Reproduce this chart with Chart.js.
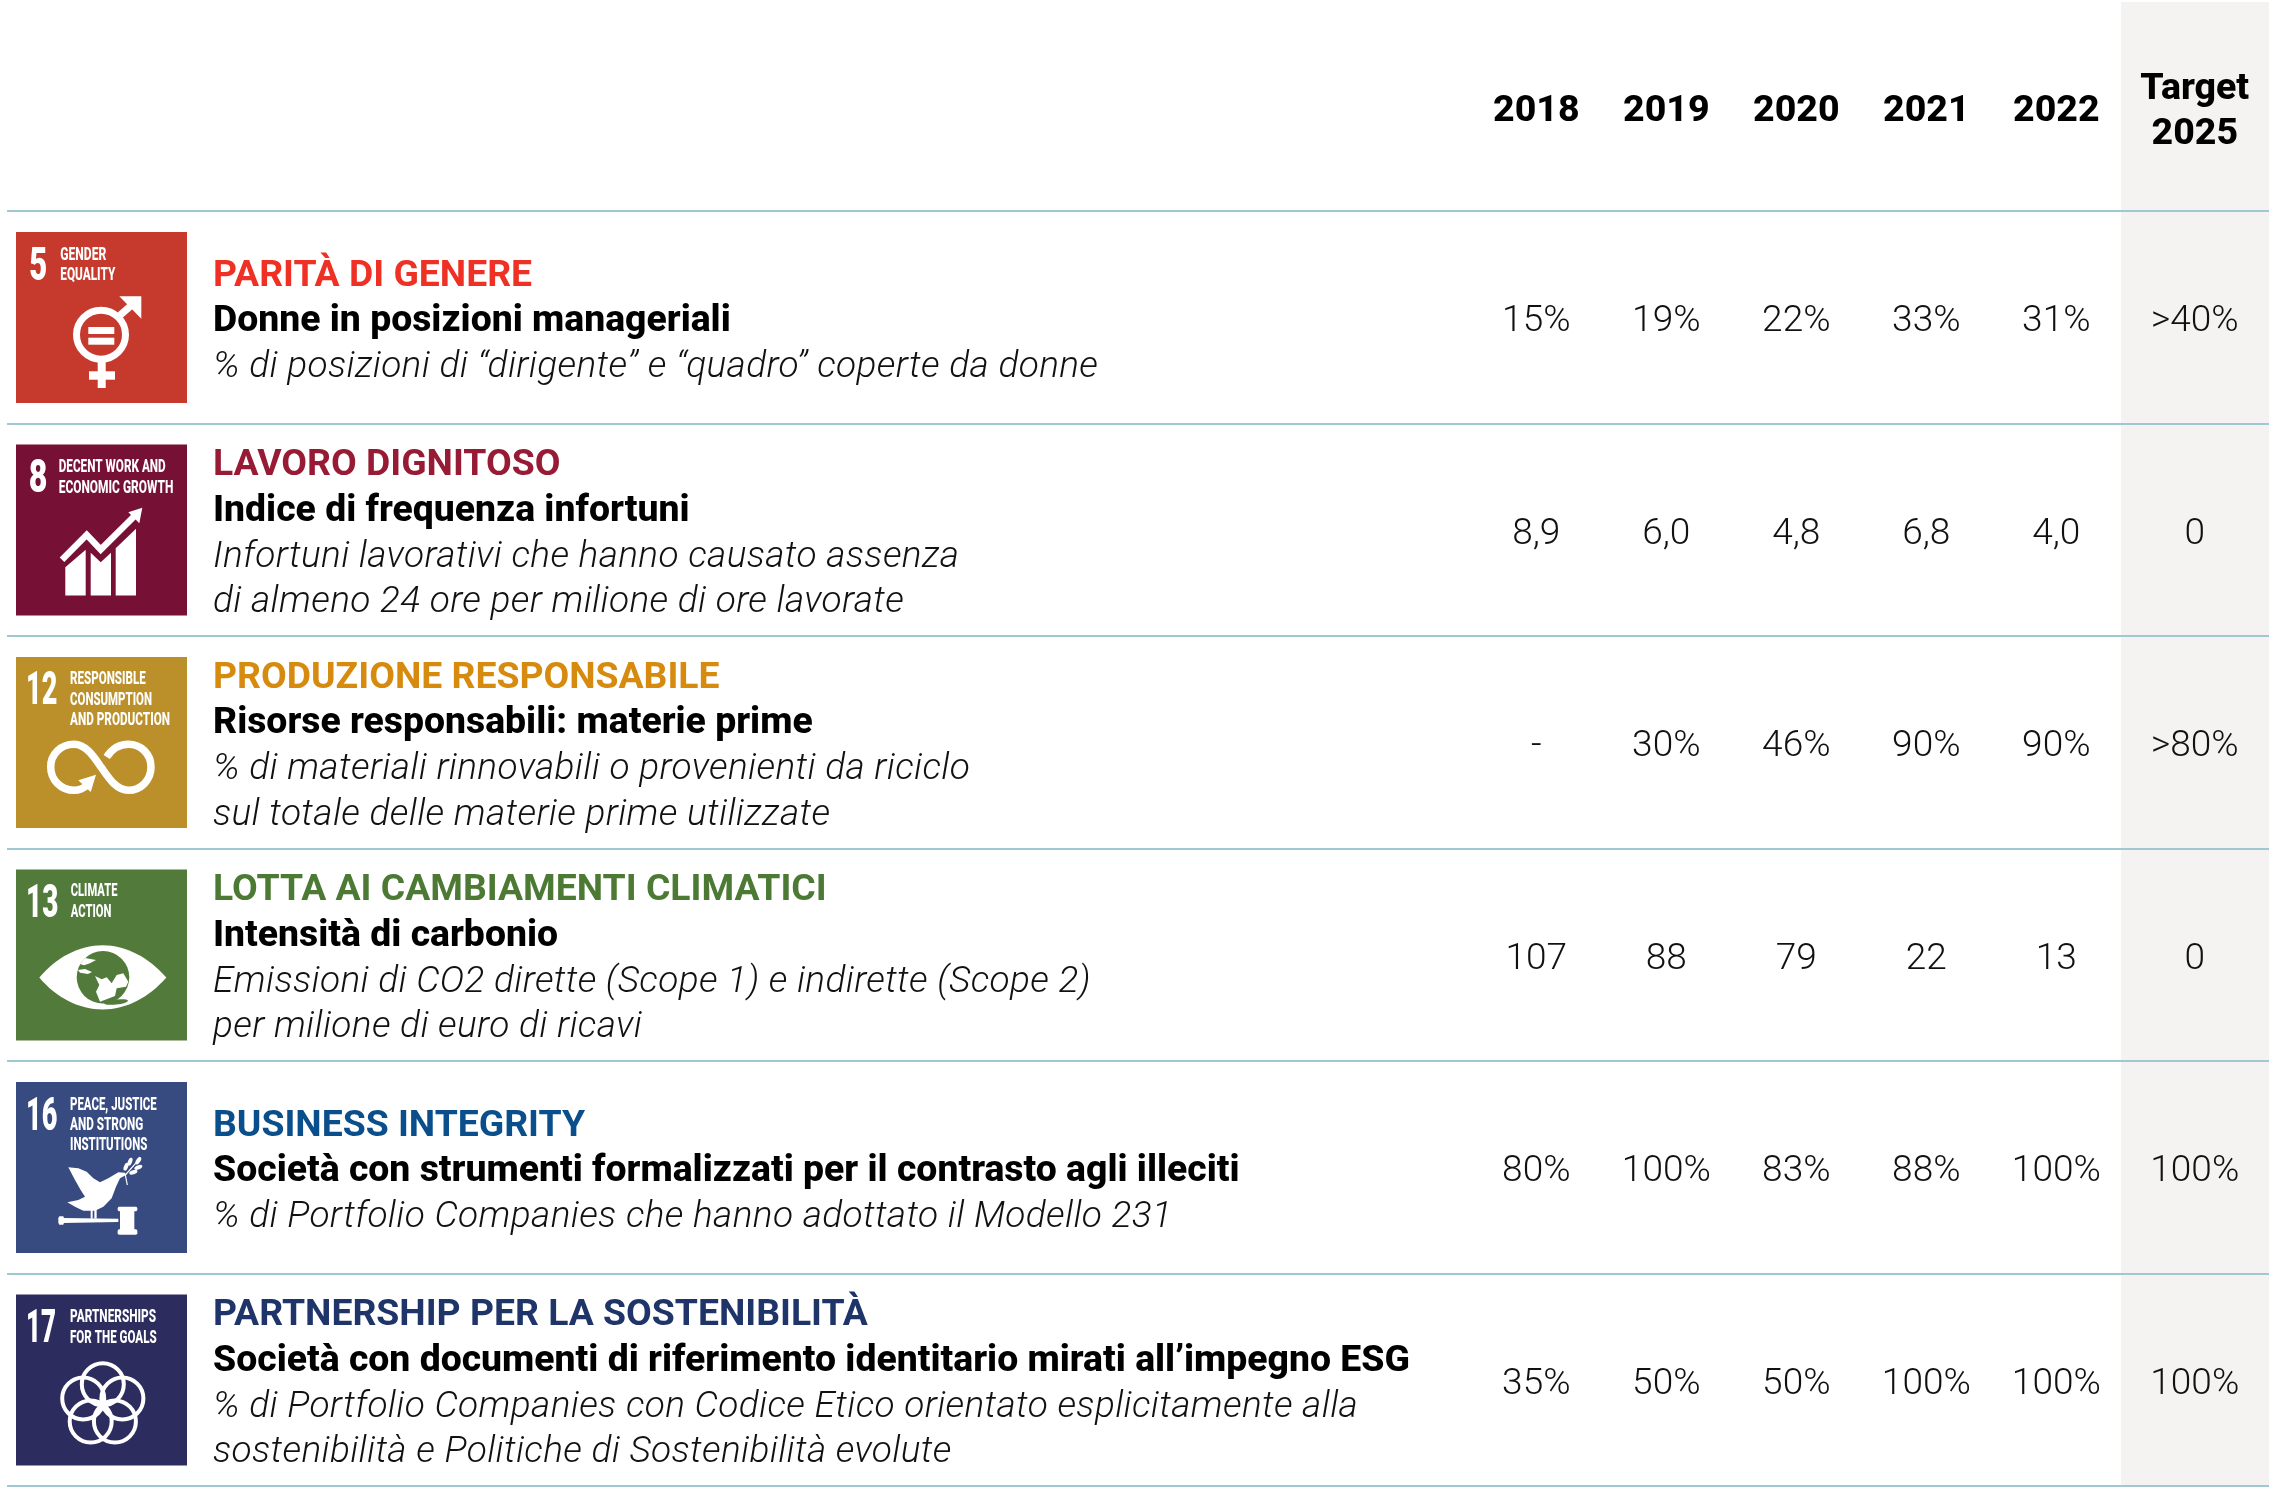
<!DOCTYPE html>
<html>
<head>
<meta charset="utf-8">
<script src="https://cdn.jsdelivr.net/npm/chart.js@4"></script>
<style>
    html, body { margin: 0; padding: 0; background: #fff; }
    canvas { display: block; }
</style>
</head>
<body>
<canvas id="table-chart" width="2271" height="1499"></canvas>
<script>
const columnLabels = ['2018', '2019', '2020', '2021', '2022', 'Target\n2025'];
const columnPositions = [2018, 2019, 2020, 2021, 2022, 2023.065];

const rowTitles = ['PARITÀ DI GENERE', 'LAVORO DIGNITOSO', 'PRODUZIONE RESPONSABILE', 'LOTTA AI CAMBIAMENTI CLIMATICI', 'BUSINESS INTEGRITY', 'PARTNERSHIP PER LA SOSTENIBILITÀ'];
const rowHeadings = [
    'Donne in posizioni manageriali',
    'Indice di frequenza infortuni',
    'Risorse responsabili: materie prime',
    'Intensità di carbonio',
    'Società con strumenti formalizzati per il contrasto agli illeciti',
    'Società con documenti di riferimento identitario mirati all’impegno ESG'
];
const rowDescriptions = [
    ['% di posizioni di “dirigente” e “quadro” coperte da donne'],
    ['Infortuni lavorativi che hanno causato assenza', 'di almeno 24 ore per milione di ore lavorate'],
    ['% di materiali rinnovabili o provenienti da riciclo', 'sul totale delle materie prime utilizzate'],
    ['Emissioni di CO2 dirette (Scope 1) e indirette (Scope 2)', 'per milione di euro di ricavi'],
    ['% di Portfolio Companies che hanno adottato il Modello 231'],
    ['% di Portfolio Companies con Codice Etico orientato esplicitamente alla', 'sostenibilità e Politiche di Sostenibilità evolute']
];
const titleColors = ['#EE3124', '#981B36', '#D68A0E', '#4C7A34', '#0A4F8C', '#1F3468'];

const values2018 = ['15%', '8,9', '-', '107', '80%', '35%'];
const values2019 = ['19%', '6,0', '30%', '88', '100%', '50%'];
const values2020 = ['22%', '4,8', '46%', '79', '83%', '50%'];
const values2021 = ['33%', '6,8', '90%', '22', '88%', '100%'];
const values2022 = ['31%', '4,0', '90%', '13', '100%', '100%'];
const valuesTarget = ['>40%', '0', '>80%', '0', '100%', '100%'];
const columnValues = [values2018, values2019, values2020, values2021, values2022, valuesTarget];

const goalColors = ['#C53A2D', '#761135', '#BB902B', '#527A3B', '#384B80', '#2D2C5E'];

const FONT = 'Roboto, sans-serif';
const FONT_SIZE = 37;
const BOLD_SIZE = 37.35;
const LINE_HEIGHT = 45.7;
const TEXT_X = 213;
const ICON_X = 16;
const ICON_SIZE = 171;
const ROW_HEIGHT = 212.5;

// squeeze a bold label into the width it has on the goal tile
function fitText(ctx, text, x, baseline, size, width, weight) {
    ctx.save();
    ctx.font = `${weight} ${size}px ${FONT}`;
    ctx.textAlign = 'left';
    ctx.textBaseline = 'alphabetic';
    const scaleX = width / ctx.measureText(text).width;
    ctx.translate(x, baseline);
    ctx.scale(scaleX, 1);
    ctx.fillText(text, 0, 0);
    ctx.restore();
}

function poly(ctx, points) {
    ctx.beginPath();
    points.forEach((p, i) => i ? ctx.lineTo(p[0], p[1]) : ctx.moveTo(p[0], p[1]));
    ctx.closePath();
    ctx.fill();
}

function drawGender(ctx) {
    ctx.lineWidth = 7;
    ctx.beginPath();
    ctx.arc(85, 102.7, 24.5, 0, Math.PI * 2);
    ctx.stroke();
    ctx.fillRect(72.3, 95, 26, 7);
    ctx.fillRect(72.3, 105.7, 26, 7);
    ctx.fillRect(81.7, 130, 8, 26);
    ctx.fillRect(73, 139.3, 26, 8.4);
    ctx.beginPath();
    ctx.moveTo(102, 85);
    ctx.lineTo(118, 71);
    ctx.stroke();
    poly(ctx, [[103.3, 64.3], [125.3, 64.3], [125.3, 86.7]]);
}

function drawGrowth(ctx) {
    poly(ctx, [[49.3, 122.7], [69.7, 105.3], [69.7, 151], [49.3, 151]]);
    poly(ctx, [[74.7, 108.3], [84.7, 117.7], [95, 108.3], [95, 151], [74.7, 151]]);
    poly(ctx, [[99.7, 103.7], [120, 84.3], [120, 151], [99.7, 151]]);
    ctx.lineWidth = 6.5;
    ctx.beginPath();
    ctx.moveTo(46, 115.3);
    ctx.lineTo(70.7, 90.3);
    ctx.lineTo(84.7, 105);
    ctx.lineTo(119, 71);
    ctx.stroke();
    poly(ctx, [[126.3, 63.3], [112.3, 67.7], [123.3, 78.7]]);
}

function drawInfinity(ctx) {
    ctx.lineWidth = 7.5;
    ctx.beginPath();
    ctx.moveTo(90.7, 100);
    ctx.bezierCurveTo(96, 92, 103, 87.3, 112.3, 87.3);
    ctx.bezierCurveTo(125, 87.3, 135, 97, 135, 110);
    ctx.bezierCurveTo(135, 123, 125, 133.3, 112.3, 133.3);
    ctx.bezierCurveTo(100, 133.3, 92, 120, 85, 110);
    ctx.bezierCurveTo(78, 100, 70, 87.3, 58, 87.3);
    ctx.bezierCurveTo(45, 87.3, 34.7, 97, 34.7, 110);
    ctx.bezierCurveTo(34.7, 123, 45, 133.3, 58, 133.3);
    ctx.bezierCurveTo(63, 133.3, 68, 131, 71.3, 128);
    ctx.stroke();
    poly(ctx, [[80, 117.7], [62.3, 123.3], [74.7, 135]]);
}

function drawEye(ctx, background) {
    ctx.beginPath();
    ctx.moveTo(23.3, 108);
    ctx.bezierCurveTo(40, 88, 63, 75.7, 86.7, 75.7);
    ctx.bezierCurveTo(110, 75.7, 133, 88, 150.3, 108);
    ctx.bezierCurveTo(133, 128, 110, 140, 86.7, 140);
    ctx.bezierCurveTo(63, 140, 40, 128, 23.3, 108);
    ctx.fill();
    ctx.fillStyle = background;
    ctx.beginPath();
    ctx.arc(87, 107.8, 26.3, 0, Math.PI * 2);
    ctx.fill();
    // seas left open in the globe
    ctx.fillStyle = '#fff';
    const toLocal = list => list.map(p => [44 + p[0] / 3, 50.5 + p[1] / 3]);
    poly(ctx, toLocal([[60, 132], [75, 114], [108, 120], [90, 130], [72, 136]]));
    poly(ctx, toLocal([[54, 150], [75, 147], [96, 156], [84, 162], [60, 158]]));
    poly(ctx, toLocal([[105, 168], [125, 178], [140, 172], [155, 190], [170, 165], [190, 160], [205, 185], [198, 200], [170, 205], [165, 228], [120, 245], [108, 215], [118, 195]]));
    ctx.fillStyle = background;
    ctx.beginPath();
    ctx.ellipse(100, 132.5, 12, 2.6, -0.1, 0, Math.PI * 2);
    ctx.fill();
}

function drawDove(ctx) {
    const toLocal = list => list.map(p => [24 + p[0] / 3, 58 + p[1] / 3]);
    poly(ctx, toLocal([[85, 82], [115, 85], [140, 95], [160, 115], [180, 127], [205, 115], [235, 97], [255, 98], [258, 105], [240, 115], [228, 140], [215, 175], [190, 200], [165, 212], [130, 212], [105, 200], [82, 187], [115, 180], [135, 170], [122, 150], [105, 120]]));
    // legs and gavel
    poly(ctx, toLocal([[152, 205], [158, 205], [158, 236], [152, 236]]));
    poly(ctx, toLocal([[163, 205], [170, 205], [170, 236], [163, 236]]));
    poly(ctx, toLocal([[70, 234], [235, 236], [235, 246], [70, 249]]));
    poly(ctx, toLocal([[58, 229], [70, 229], [72, 235], [72, 248], [70, 254], [58, 254], [55, 248], [55, 235]]));
    poly(ctx, toLocal([[240, 208], [283, 208], [283, 272], [240, 272]]));
    poly(ctx, toLocal([[236, 200], [289, 200], [292, 204], [292, 210], [289, 214], [236, 214], [233, 210], [233, 204]]));
    poly(ctx, toLocal([[236, 268], [289, 268], [292, 272], [292, 280], [289, 284], [236, 284], [233, 280], [233, 272]]));
    // olive branch
    ctx.lineWidth = 1.2;
    ctx.beginPath();
    ctx.moveTo(24 + 262 / 3, 58 + 135 / 3);
    ctx.lineTo(24 + 256 / 3, 58 + 105 / 3);
    ctx.lineTo(24 + 300 / 3, 58 + 55 / 3);
    ctx.stroke();
    [[258, 80, -1.2], [270, 65, -1.2], [295, 62, -1], [280, 97, -0.3], [295, 82, -0.4]].forEach(p => {
        ctx.beginPath();
        ctx.ellipse(24 + p[0] / 3, 58 + p[1] / 3, 4.2, 2.1, p[2], 0, Math.PI * 2);
        ctx.fill();
    });
}

function drawRings(ctx) {
    ctx.lineWidth = 4;
    for (let i = 0; i < 5; i++) {
        const angle = -Math.PI / 2 + i * Math.PI * 2 / 5;
        ctx.beginPath();
        ctx.arc(86.8 + 20.6 * Math.cos(angle), 110.3 + 20.6 * Math.sin(angle), 21, 0, Math.PI * 2);
        ctx.stroke();
    }
}

// [text, x, baseline, width] in tile coordinates
const goalLabels = [
    [['5', 13.3, 47.7, 18], ['GENDER', 44.3, 27.7, 46], ['EQUALITY', 44.3, 47.7, 55]],
    [['8', 12.7, 47.7, 18.7], ['DECENT WORK AND', 42.7, 27.7, 107], ['ECONOMIC GROWTH', 42.7, 48.3, 114.7]],
    [['12', 10, 46.7, 31.3], ['RESPONSIBLE', 54, 27, 75.7], ['CONSUMPTION', 54, 47.7, 82], ['AND PRODUCTION', 54, 68.3, 100]],
    [['13', 10, 47.3, 32.3], ['CLIMATE', 54.7, 26.7, 46.7], ['ACTION', 54.7, 47.3, 40.7]],
    [['16', 10, 47.7, 31.3], ['PEACE, JUSTICE', 54, 27.7, 86.7], ['AND STRONG', 54, 48.3, 73.3], ['INSTITUTIONS', 54, 68.3, 77.3]],
    [['17', 10, 47.3, 30], ['PARTNERSHIPS', 54, 27.3, 86], ['FOR THE GOALS', 54, 48, 86.7]]
];
const goalIcons = [drawGender, drawGrowth, drawInfinity, drawEye, drawDove, drawRings];

function drawGoalTile(ctx, index, top) {
    ctx.save();
    ctx.translate(ICON_X, top);
    ctx.fillStyle = goalColors[index];
    ctx.fillRect(0, 0, ICON_SIZE, ICON_SIZE);
    ctx.fillStyle = '#fff';
    ctx.strokeStyle = '#fff';
    goalLabels[index].forEach((label, i) => {
        if (i === 0) fitText(ctx, label[0], label[1], label[2], 47, label[3], 900);
        else fitText(ctx, label[0], label[1], label[2], 18, label[3], 800);
    });
    goalIcons[index](ctx, goalColors[index]);
    ctx.restore();
}

const tablePlugin = {
    id: 'tablePlugin',
    beforeDraw(chart) {
        const { ctx, scales: { x, y } } = chart;
        // shaded target column runs up through the header
        ctx.save();
        ctx.fillStyle = '#F4F3F1';
        ctx.fillRect(2121, 2, x.right - 2121, y.bottom - 2);
        ctx.restore();
    },
    afterDraw(chart) {
        const { ctx, scales: { x, y } } = chart;
        ctx.save();

        // column headers, taken from the x axis ticks
        ctx.fillStyle = '#000';
        ctx.font = `800 37.5px ${FONT}`;
        ctx.textAlign = 'center';
        ctx.textBaseline = 'alphabetic';
        x.ticks.forEach(tick => {
            const lines = columnLabels[columnPositions.indexOf(tick.value)].split('\n');
            lines.forEach((line, i) => {
                const baseline = 108.5 + 12.5 + (i - (lines.length - 1) / 2) * 45;
                ctx.fillText(line, x.getPixelForValue(tick.value), baseline);
            });
        });

        // row texts
        rowTitles.forEach((title, i) => {
            const center = y.getPixelForValue(i);
            const lines = rowDescriptions[i];
            const first = center + 14 - (lines.length + 1) / 2 * LINE_HEIGHT;
            ctx.textAlign = 'left';
            ctx.fillStyle = titleColors[i];
            ctx.font = `700 ${BOLD_SIZE}px ${FONT}`;
            ctx.fillText(title, TEXT_X, first);
            ctx.fillStyle = '#000';
            ctx.font = `800 ${BOLD_SIZE}px ${FONT}`;
            ctx.fillText(rowHeadings[i], TEXT_X, first + LINE_HEIGHT);
            ctx.fillStyle = '#111';
            ctx.font = `italic 300 ${FONT_SIZE}px ${FONT}`;
            ctx.letterSpacing = '0.36px';
            lines.forEach((line, k) => ctx.fillText(line, TEXT_X, first + LINE_HEIGHT * (k + 2)));
            ctx.letterSpacing = '0px';

            drawGoalTile(ctx, i, center - ROW_HEIGHT / 2 + 21);
        });

        // cell values sit on the dataset points
        ctx.textAlign = 'center';
        ctx.fillStyle = '#111';
        ctx.font = `300 ${FONT_SIZE}px ${FONT}`;
        chart.data.datasets.forEach(dataset => {
            dataset.data.forEach(point => {
                ctx.fillText(point.label, x.getPixelForValue(point.x), y.getPixelForValue(point.y) + 14);
            });
        });
        ctx.restore();
    }
};

const datasets = columnValues.map((values, col) => ({
    label: columnLabels[col],
    data: values.map((value, row) => ({ x: columnPositions[col], y: rowTitles[row], label: value })),
    pointRadius: 0,
    showLine: false
}));

new Chart(document.querySelector('#table-chart'), {
    type: 'scatter',
    data: { datasets },
    options: {
        responsive: false,
        animation: false,
        devicePixelRatio: 1,
        layout: { padding: { left: 7, top: 203, right: 2, bottom: 13 } },
        plugins: { legend: { display: false }, tooltip: { enabled: false } },
        scales: {
            x: {
                type: 'linear',
                position: 'top',
                min: 2006.236,
                max: 2023.636,
                afterBuildTicks: axis => { axis.ticks = columnPositions.map(value => ({ value })); },
                grid: { display: false },
                border: { display: false },
                ticks: { display: false }
            },
            y: {
                type: 'category',
                labels: rowTitles,
                offset: true,
                grid: { offset: true, color: '#A0C8D0', lineWidth: 2, drawTicks: false },
                border: { display: false },
                ticks: { display: false }
            }
        }
    },
    plugins: [tablePlugin]
});
</script>
</body>
</html>
